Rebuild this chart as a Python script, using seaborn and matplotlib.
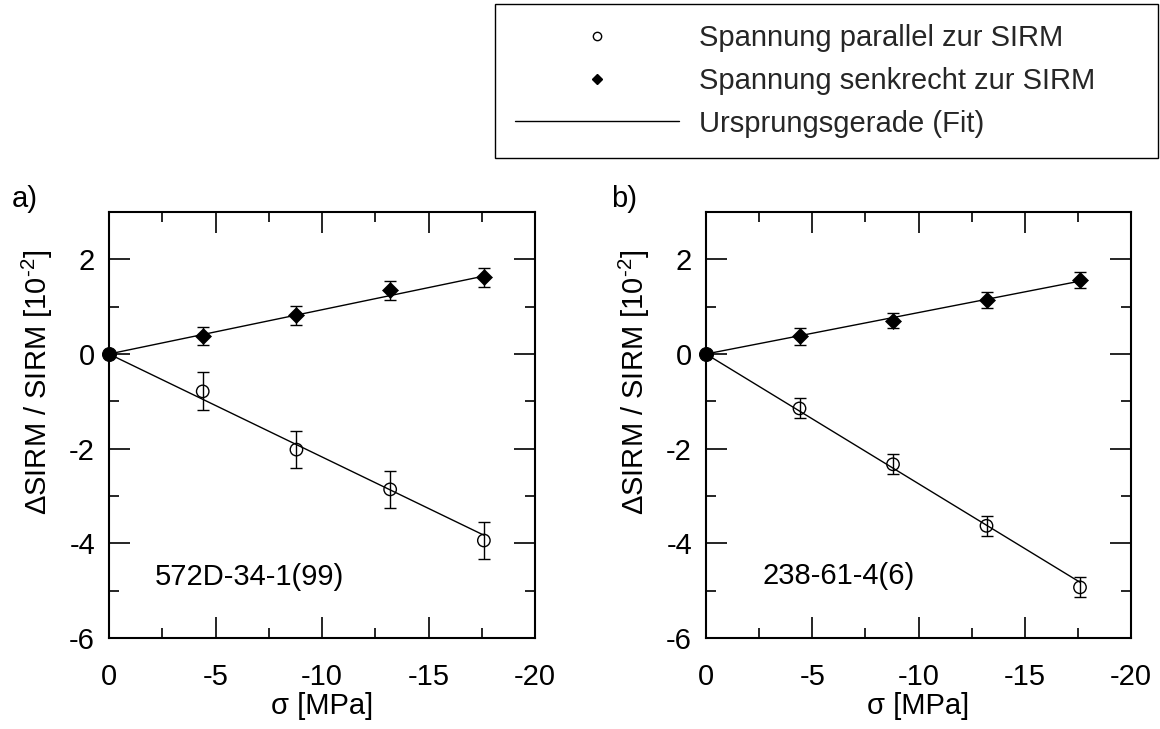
import numpy as np
import pandas as pd
import matplotlib
matplotlib.use("Agg")
import matplotlib.pyplot as plt
from matplotlib.lines import Line2D
from matplotlib.ticker import MultipleLocator
import seaborn as sns

# Applied stress steps [MPa]
stress = [-4.4, -8.8, -13.2, -17.6]

# Sample 572D-34-1(99)
a_par = [-0.79, -2.02, -2.86, -3.94]
a_par_err = [0.40, 0.39, 0.39, 0.39]
a_perp = [0.39, 0.82, 1.35, 1.62]
a_perp_err = [0.19, 0.20, 0.20, 0.20]
a_slope_par = 0.2175      # fit through origin, per -MPa
a_slope_perp = -0.0935

# Sample 238-61-4(6)
b_par = [-1.15, -2.33, -3.63, -4.93]
b_par_err = [0.21, 0.21, 0.21, 0.21]
b_perp = [0.37, 0.70, 1.15, 1.57]
b_perp_err = [0.17, 0.16, 0.17, 0.17]
b_slope_par = 0.274
b_slope_perp = -0.0875

fit_range = [0.0, -17.6]

panels = [
    ("a)", "572D-34-1(99)", (-2.16, -4.72), a_par, a_par_err, a_perp, a_perp_err, a_slope_par, a_slope_perp),
    ("b)", "238-61-4(6)", (-2.64, -4.68), b_par, b_par_err, b_perp, b_perp_err, b_slope_par, b_slope_perp),
]

legend_labels = ["Spannung parallel zur SIRM",
                 "Spannung senkrecht zur SIRM",
                 "Ursprungsgerade (Fit)"]

sns.set_theme(style="ticks")
plt.rcParams["font.family"] = ["Liberation Sans", "DejaVu Sans"]
plt.rcParams["mathtext.fontset"] = "custom"
plt.rcParams["mathtext.rm"] = "Liberation Sans"
plt.rcParams["axes.unicode_minus"] = False

FS = 21
W, H = 1160, 729
fig = plt.figure(figsize=(W / 100, H / 100), dpi=100)

boxes = [(109, 212, 535, 638), (706, 212, 1131, 638)]
tag_x = [12, 611]

for (tag, sample, spos, par, par_err, perp, perp_err, s_par, s_perp), (x0, y0, x1, y1), tx in zip(panels, boxes, tag_x):
    ax = fig.add_axes([x0 / W, 1 - y1 / H, (x1 - x0) / W, (y1 - y0) / H])
    ax.set_facecolor("white")

    # fit lines through the origin
    fit = pd.DataFrame({
        "x": fit_range * 2,
        "y": [s_par * v for v in fit_range] + [s_perp * v for v in fit_range],
        "kind": ["par", "par", "perp", "perp"],
    })
    for kind in ["par", "perp"]:
        sns.lineplot(data=fit[fit.kind == kind], x="x", y="y", ax=ax,
                     color="black", linewidth=1.0, legend=False, sort=False)

    # error bars
    ax.errorbar(stress, par, yerr=par_err, fmt="none", ecolor="black",
                elinewidth=1.0, capsize=4, capthick=1.0, zorder=3)
    ax.errorbar(stress, perp, yerr=perp_err, fmt="none", ecolor="black",
                elinewidth=1.0, capsize=4, capthick=1.0, zorder=3)

    pts = pd.DataFrame({"x": stress, "par": par, "perp": perp})
    sns.scatterplot(data=pts, x="x", y="par", ax=ax, marker="o", s=80,
                    color="none", edgecolor="black", linewidth=1.0, zorder=4)
    sns.scatterplot(data=pts, x="x", y="perp", ax=ax, marker="D", s=66,
                    color="black", edgecolor="black", linewidth=0.5, zorder=4)
    # common origin point
    sns.scatterplot(x=[0.0], y=[0.0], ax=ax, marker="o", s=100, color="black",
                    edgecolor="black", zorder=5, clip_on=False)

    ax.set_xlim(0, -20)
    ax.set_ylim(-6, 3)
    ax.xaxis.set_major_locator(MultipleLocator(5))
    ax.xaxis.set_minor_locator(MultipleLocator(2.5))
    ax.yaxis.set_major_locator(MultipleLocator(2))
    ax.yaxis.set_minor_locator(MultipleLocator(1))
    ax.set_yticks([-6, -4, -2, 0, 2])
    ax.tick_params(which="both", direction="in", top=True, right=True,
                   color="black", width=1.2)
    ax.tick_params(which="major", length=15, labelsize=FS, labelcolor="black")
    ax.tick_params(axis="x", which="major", pad=18)
    ax.tick_params(axis="y", which="major", pad=10)
    ax.tick_params(which="minor", length=7.5)
    for sp in ax.spines.values():
        sp.set_linewidth(1.5)
        sp.set_color("black")

    ax.set_xlabel("σ [MPa]", fontsize=FS, labelpad=1, color="black")
    ax.set_ylabel("ΔSIRM / SIRM [10$^{\\text{-2}}$]", fontsize=FS, color="black")
    ax.yaxis.set_label_coords(-0.127, 0.60)
    ax.text(spos[0], spos[1], sample, fontsize=FS, ha="left", va="center",
            color="black")
    fig.text(tx / W, 1 - 199 / H, tag, fontsize=FS, ha="left",
             va="center", color="black")

handles = [
    Line2D([], [], linestyle="none", marker="o", markersize=6,
           markerfacecolor="white", markeredgecolor="black", markeredgewidth=1.0),
    Line2D([], [], linestyle="none", marker="D", markersize=5.5,
           markerfacecolor="black", markeredgecolor="black"),
    Line2D([], [], color="black", linewidth=1.0),
]
leg = fig.legend(handles, legend_labels, loc="upper left",
                 bbox_to_anchor=(495 / W, 1 - 155 / H, (1158 - 495) / W, 151 / H),
                 mode="expand", fontsize=FS, frameon=True, fancybox=False,
                 edgecolor="black", framealpha=1, handlelength=5.6,
                 handletextpad=0.7, labelspacing=0.5, borderpad=0.7,
                 borderaxespad=0.0, numpoints=1)
leg.get_frame().set_linewidth(1.0)

fig.savefig("out.png", dpi=100, facecolor="white")
